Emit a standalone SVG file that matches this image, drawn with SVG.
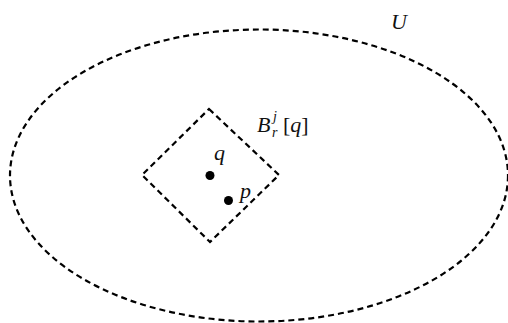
<svg xmlns="http://www.w3.org/2000/svg" width="508" height="323" viewBox="0 0 508 323">
<style>
.d{fill:none;stroke:#000;stroke-width:2.2;stroke-dasharray:6 4}
.t{font-family:"Liberation Serif",serif;font-style:italic;font-size:22px;fill:#111}
.s{font-size:14px}
.dot{fill:#000}
</style>
<rect width="508" height="323" fill="#fff"/>
<g id="U">
<ellipse class="d" cx="259" cy="175.5" rx="249" ry="146"/>
<text class="t" x="391" y="29">U</text>
</g>
<g id="B">
<polygon class="d" points="209,109 279,175 210,242 142,175"/>
<text class="t" x="257" y="132">B</text>
<text class="t s" x="273" y="121">j</text>
<text class="t s" x="272" y="137">r</text>
<text class="t" x="283" y="132"><tspan font-style="normal">[</tspan>q<tspan font-style="normal">]</tspan></text>
</g>
<g id="q">
<circle class="dot" cx="210" cy="175.5" r="4.5"/>
<text class="t" x="214" y="160">q</text>
</g>
<g id="p">
<circle class="dot" cx="228.5" cy="200.5" r="4.5"/>
<text class="t" x="240" y="198">p</text>
</g>
</svg>
